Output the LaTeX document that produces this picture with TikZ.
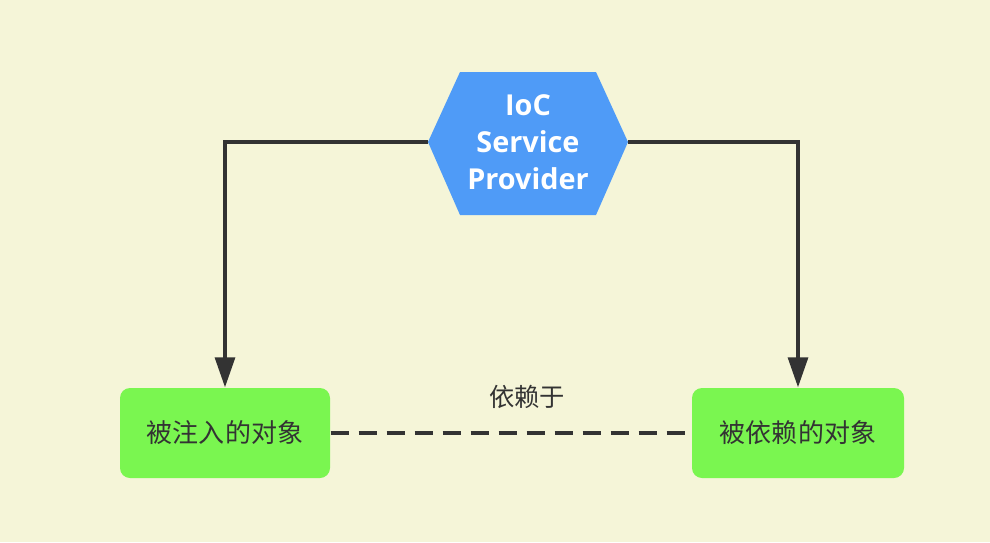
\documentclass[tikz,border=0pt]{standalone}
\usepackage{fontspec}
\setsansfont{Open Sans}
\newfontfamily\cjkfont{Noto Sans CJK SC}
\usetikzlibrary{arrows.meta}

\definecolor{paper}{RGB}{245,245,216}
\definecolor{iocblue}{RGB}{79,155,247}
\definecolor{objgreen}{RGB}{122,246,80}
\definecolor{ink}{RGB}{51,51,51}

\begin{document}
\begin{tikzpicture}[line cap=butt,line join=miter,x=1.0cm,y=1.0cm,
    objbox/.style={fill=objgreen, rounded corners=0.1cm, minimum width=2.1cm,
      minimum height=0.9cm, inner sep=0pt, text=ink,
      font=\cjkfont\fontsize{7.4}{9}\selectfont},
    hextext/.style={text=white, align=center, inner sep=0pt,
      font=\sffamily\bfseries\fontsize{8.2}{10.5}\selectfont},
    link/.style={draw=ink, line width=0.9pt, -{Triangle[length=0.3cm,width=0.2cm]}},
    relates/.style={draw=ink, line width=0.9pt, dash pattern=on 0.18cm off 0.1cm}]
    \fill[paper] (0,0) rectangle (9.90,5.42);
    \useasboundingbox (0,0) rectangle (9.90,5.42);

    % Hexagon
    \coordinate (hexW) at (4.28,4.00);
    \coordinate (hexE) at (6.28,4.00);
    \fill[iocblue] (hexW) -- (4.60,4.70) -- (5.96,4.70) -- (hexE)
        -- (5.96,3.27) -- (4.60,3.27) -- cycle;
    \node[hextext] (ioc) at (5.28,4.00) {IoC\\Service\\Provider};

    % Objects
    \node[objbox] (injected) at (2.25,1.09) {被注入的对象};
    \node[objbox, minimum width=2.12cm] (dependent) at (7.98,1.09) {被依赖的对象};

    \draw[link] (hexW) -| (injected.north);
    \draw[link] (hexE) -| (dependent.north);
    \draw[relates] (injected.east) -- (dependent.west);
    \node[text=ink, font=\cjkfont\fontsize{7.2}{9}\selectfont] (dep) at (5.27,1.45) {依赖于};
\end{tikzpicture}
\end{document}
